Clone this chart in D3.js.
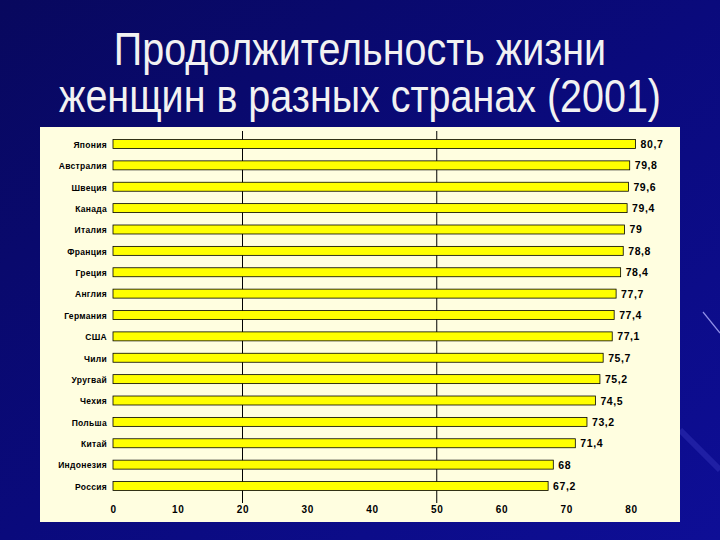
<!DOCTYPE html>
<html><head><meta charset="utf-8">
<script src="https://cdn.jsdelivr.net/npm/d3@7"></script>
<style>html,body{margin:0;padding:0;background:#0a0a78;}svg{display:block;}</style>
</head><body>
<script>
const titleLines = ["Продолжительность жизни", "женщин в разных странах (2001)"];
const countries = ["Япония","Австралия","Швеция","Канада","Италия","Франция","Греция","Англия","Германия","США","Чили","Уругвай","Чехия","Польша","Китай","Индонезия","Россия"];
const values = [80.7,79.8,79.6,79.4,79,78.8,78.4,77.7,77.4,77.1,75.7,75.2,74.5,73.2,71.4,68,67.2];
const valueLabels = ["80,7","79,8","79,6","79,4","79","78,8","78,4","77,7","77,4","77,1","75,7","75,2","74,5","73,2","71,4","68","67,2"];
const xTicks = [0,10,20,30,40,50,60,70,80];
const refLines = [20,50];

const W = 720, H = 540;
const svg = d3.select("body").append("svg").attr("width", W).attr("height", H);
const defs = svg.append("defs");
const g1 = defs.append("linearGradient").attr("id","bg").attr("x1","0").attr("y1","0").attr("x2","1").attr("y2","1");
g1.append("stop").attr("offset","0").attr("stop-color","#08085e");
g1.append("stop").attr("offset","0.5").attr("stop-color","#0a0a7c");
g1.append("stop").attr("offset","1").attr("stop-color","#0e0e96");
svg.append("rect").attr("width",W).attr("height",H).attr("fill","url(#bg)");
// decorative streaks on the right
svg.append("line").attr("x1",703).attr("y1",312).attr("x2",720).attr("y2",333).attr("stroke","#b0b0ff").attr("stroke-width",1.2).attr("opacity",0.8);
svg.append("line").attr("x1",680).attr("y1",430).attr("x2",720).attr("y2",470).attr("stroke","#4a4ad0").attr("stroke-width",6).attr("opacity",0.3);

// title (tall, condensed look)
svg.append("g").attr("transform","translate(360,0) scale(0.84,1) translate(-360,0)")
  .selectAll("text").data(titleLines).join("text")
  .attr("x", 360).attr("y", (d,i) => 65 + i*47)
  .attr("text-anchor","middle")
  .attr("font-family","Liberation Sans, Arial, sans-serif")
  .attr("font-size", 47)
  .attr("fill","#f2f2f2")
  .text(d => d);

// panel
svg.append("rect").attr("x",40).attr("y",127).attr("width",640).attr("height",395).attr("fill","#fffee0");

const x = d3.scaleLinear().domain([0,80]).range([113,631]);
const y = d3.scaleBand().domain(countries).range([133.3,496.7]).paddingInner(0.58).paddingOuter(0.29);

// reference lines
svg.append("g").selectAll("line").data(refLines).join("line")
  .attr("x1", d => x(d)).attr("x2", d => x(d)).attr("y1", 131).attr("y2", 503)
  .attr("stroke","#000").attr("stroke-width",1);

// bars
svg.append("g").selectAll("rect").data(values).join("rect")
  .attr("x", x(0)).attr("y", (d,i) => y(countries[i]))
  .attr("width", d => x(d) - x(0)).attr("height", y.bandwidth())
  .attr("fill","#ffff00").attr("stroke","#000").attr("stroke-width",0.8);

// value labels
svg.append("g").selectAll("text").data(values).join("text")
  .attr("x", d => x(d) + 5).attr("y", (d,i) => y(countries[i]) + y.bandwidth()/2 + 4)
  .attr("font-family","Liberation Sans, Arial, sans-serif").attr("font-weight","bold")
  .attr("font-size",10.5).attr("letter-spacing",0.6).attr("fill","#000")
  .text((d,i) => valueLabels[i]);

// category axis
const yAxis = d3.axisLeft(y).tickSize(0).tickPadding(6);
const ya = svg.append("g").attr("transform",`translate(${x(0)},0)`).call(yAxis);
ya.select(".domain").remove();
ya.selectAll("text").attr("font-family","Liberation Sans, Arial, sans-serif").attr("font-weight","bold")
  .attr("font-size",8.5).attr("fill","#000").attr("dy","0.45em").attr("letter-spacing",0.3);

// x axis
const xAxis = d3.axisBottom(x).tickValues(xTicks).tickSize(0).tickPadding(0).tickFormat(d3.format("d"));
const xa = svg.append("g").attr("transform","translate(0,503)").call(xAxis);
xa.select(".domain").remove();
xa.selectAll("text").attr("font-family","Liberation Sans, Arial, sans-serif").attr("font-weight","bold")
  .attr("font-size",10).attr("fill","#000").attr("dy","1em").attr("letter-spacing",0.6);
</script>
</body></html>
